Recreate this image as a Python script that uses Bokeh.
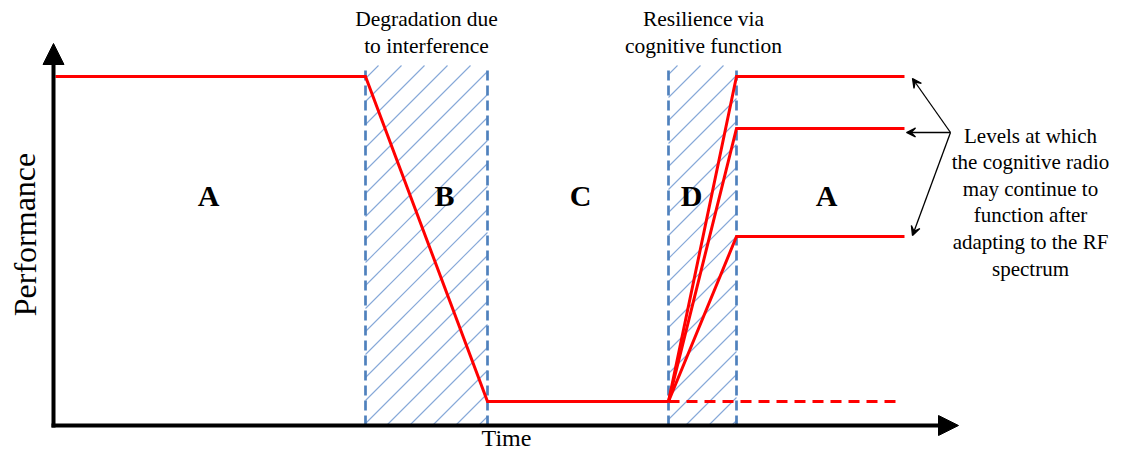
from bokeh.plotting import figure
from bokeh.models import Range1d, Arrow, VeeHead, NormalHead
from bokeh.embed import file_html
from bokeh.resources import INLINE
from bokeh.core.properties import value

# ---- data (units: x to the right, y upward) ----
H = 467
origin_x = 53
origin_y = H - 425
x_axis_tip = 958
y_axis_tip = H - 43

phase_labels = ["A", "B", "C", "D", "A"]
phase_x = [208, 444, 580, 691, 826]
phase_y = H - 195

boundaries = [365, 487, 668, 736]        # B start, B end, D start, D end
hatched_left = [365, 668]
hatched_right = [487, 736]
region_top = H - 65
hatch_step = 23
hatch_phase = 788

normal_level = H - 76
degraded_level = H - 401
recovered_levels = [H - 76, H - 128, H - 236]
levels_end = 904
dashed_end = 895

perf_x = [55, 365, 487, 668]
perf_y = [normal_level, normal_level, degraded_level, degraded_level]

top_notes = [["Degradation due", "to interference"],
             ["Resilience via", "cognitive function"]]
top_notes_x = [426, 703]

side_note = ["Levels at which", "the cognitive radio", "may continue to",
             "function after", "adapting to the RF", "spectrum"]
side_note_x = 1030
arrow_origin = (950, H - 132)
arrow_tips_x = [912, 906, 912]
arrow_tips_y = [H - 78, H - 132, H - 235]

FONT = value("Liberation Serif")

p = figure(width=1111, height=451, x_range=Range1d(0, 1111), y_range=Range1d(H - 451, H),
           x_axis_type=None, y_axis_type=None, output_backend="svg",
           toolbar_location=None, min_border=0)
p.grid.visible = False
p.outline_line_color = None
p.background_fill_color = "white"

# 45-degree hatching of regions B and D (lines y - x = c, clipped to each region)
hx0, hy0, hx1, hy1 = [], [], [], []
for L, R in zip(hatched_left, hatched_right):
    B, T = origin_y, region_top
    c_min, c_max = B - R, T - L
    k0 = int((c_min - (H - hatch_phase)) // hatch_step) - 1
    k1 = int((c_max - (H - hatch_phase)) // hatch_step) + 2
    for k in range(k0, k1):
        c = (H - hatch_phase) + k * hatch_step
        xa = max(L, B - c)
        xb = min(R, T - c)
        if xb - xa > 0.5:
            hx0.append(xa); hy0.append(xa + c)
            hx1.append(xb); hy1.append(xb + c)
p.segment(x0=hx0, y0=hy0, x1=hx1, y1=hy1, line_color="#86a8d8", line_width=1.1)

# dashed blue boundaries
p.segment(x0=boundaries, y0=origin_y, x1=boundaries, y1=region_top,
          line_color="#4f81bd", line_width=2.7, line_dash="10 5")

# red performance path
p.line(perf_x, perf_y, line_color="red", line_width=3, line_join="miter")
p.segment(x0=[boundaries[2]], y0=[degraded_level], x1=[dashed_end], y1=[degraded_level],
          line_color="red", line_width=3, line_dash="11 7")
rec_xs = [[boundaries[2], boundaries[3], levels_end] for _ in recovered_levels]
rec_ys = [[degraded_level, lv, lv] for lv in recovered_levels]
p.multi_line(rec_xs, rec_ys, line_color="red", line_width=3, line_join="miter")

# axes with arrowheads
p.add_layout(Arrow(x_start=origin_x, y_start=origin_y - 2, x_end=origin_x, y_end=y_axis_tip,
                   line_width=4, line_color="black",
                   end=NormalHead(size=21, fill_color="black", line_color="black")))
p.add_layout(Arrow(x_start=origin_x - 2, y_start=origin_y, x_end=x_axis_tip, y_end=origin_y,
                   line_width=4, line_color="black",
                   end=NormalHead(size=20, fill_color="black", line_color="black")))

# annotation arrows
for tx, ty in zip(arrow_tips_x, arrow_tips_y):
    p.add_layout(Arrow(x_start=arrow_origin[0], y_start=arrow_origin[1], x_end=tx, y_end=ty,
                       line_width=1.3, line_color="black",
                       end=VeeHead(size=9, line_color="black", line_width=1.3)))

# phase letters
p.text(x=phase_x, y=[phase_y] * len(phase_x), text=phase_labels, text_font=FONT,
       text_font_size="30px", text_font_style="bold", text_align="center",
       text_baseline="middle", text_color="black")

# top notes
step = 27
tx, ty, tt = [], [], []
for cx, lines in zip(top_notes_x, top_notes):
    for i, s in enumerate(lines):
        tx.append(cx)
        ty.append(H - 18 - i * step)
        tt.append(s)
p.text(x=tx, y=ty, text=tt, text_font=FONT, text_font_size="21.5px",
       text_align="center", text_baseline="middle", text_color="black")

# side note
p.text(x=[side_note_x] * len(side_note), y=[H - 135 - i * 26.6 for i in range(len(side_note))],
       text=side_note, text_font=FONT, text_font_size="21px",
       text_align="center", text_baseline="middle", text_color="black")

# axis titles
p.text(x=[506], y=[H - 450.5], text=["Time"], text_font=FONT, text_font_size="24px",
       text_align="center", text_baseline="bottom", text_color="black")
p.text(x=[24], y=[H - 234], text=["Performance"], angle=1.5708, text_font=FONT,
       text_font_size="32px", text_align="center", text_baseline="middle", text_color="black")

open("out.html", "w").write(file_html(p, INLINE))
